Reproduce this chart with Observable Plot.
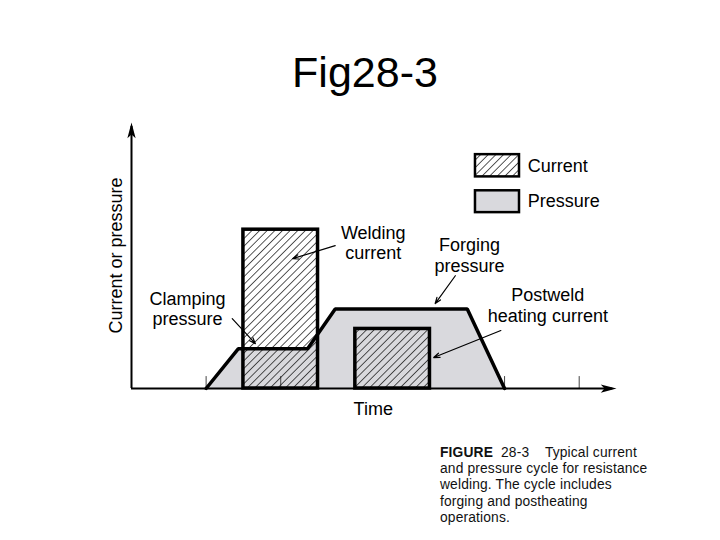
<!DOCTYPE html>
<html>
<head>
<meta charset="utf-8">
<script src="https://cdn.jsdelivr.net/npm/d3@7"></script>
<script src="https://cdn.jsdelivr.net/npm/@observablehq/plot@0.6"></script>
<style>
  html, body { margin: 0; padding: 0; background: #fff; }
  #page { position: relative; width: 720px; height: 540px; overflow: hidden; background: #fff; }
  #title { position: absolute; left: 0; width: 730px; top: 51px; text-align: center;
           font-family: "Liberation Sans", Arial, sans-serif; font-size: 43px; line-height: 43px; color: #000; }
  #chart { position: absolute; left: 0; top: 100px; }
  #caption { position: absolute; left: 440px; top: 445px; font-family: "Liberation Sans", Arial, sans-serif;
             font-size: 13.8px; line-height: 16.2px; color: #111; letter-spacing: 0.15px; }
  #caption b { font-weight: 700; }
</style>
</head>
<body>
<div id="page">
  <div id="title">Fig28-3</div>
  <div id="chart"></div>
  <div id="caption"></div>
</div>
<script>
// ---- data ----
const pressureTime  = [1, 1.43, 2.36, 2.73, 4.5, 5];
const pressureLevel = [0, 1, 1, 2, 2, 0];

const currentStart = [1.5, 3];
const currentEnd   = [2.5, 4];
const currentLevel = [4, 1.5];

const tickTimes = [1, 2, 5, 6];

const labelLines = ["Welding", "current", "Forging", "pressure", "Clamping", "pressure", "Postweld", "heating current"];
const labelX     = [3.24, 3.24, 4.53, 4.53, 0.75, 0.75, 5.58, 5.58];
const labelY     = [3.92, 3.40, 3.62, 3.09, 2.26, 1.74, 2.34, 1.81];

const pointerFromX = [2.73, 4.34, 1.35, 4.95];
const pointerFromY = [3.60, 2.84, 1.76, 1.46];
const pointerToX   = [2.16, 4.07, 1.66, 4.05];
const pointerToY   = [3.27, 2.14, 1.13, 0.78];

const legendLabels = ["Current", "Pressure"];
const legendTop    = [5.89, 4.98];
const legendBottom = [5.33, 4.43];

const xLabel = "Time";
const yLabel = "Current or pressure";
const captionLines = ["<b>FIGURE</b>&nbsp; 28-3 &nbsp;&nbsp; Typical current", "and pressure cycle for resistance",
  "welding. The cycle includes", "forging and postheating", "operations."];

// ---- build tables ----
const pressure = pressureTime.map((t, i) => ({t, p: pressureLevel[i]}));
const currents = currentStart.map((s, i) => ({s, e: currentEnd[i], c: currentLevel[i]}));
const labels = labelLines.map((text, i) => ({text, x: labelX[i], y: labelY[i]}));
const pointers = pointerFromX.map((x1, i) => ({x1, y1: pointerFromY[i], x2: pointerToX[i], y2: pointerToY[i]}));
const legend = legendLabels.map((label, i) => ({label, top: legendTop[i], bottom: legendBottom[i],
  fill: i === 0 ? "#fe01fe" : "#d9d9dd"}));

const HATCH = "#fe01fe";
const GRAY = "#d9d9dd";
const font = "'Liberation Sans', Arial, sans-serif";

const arrowHead = {
  draw(ctx, size) {
    const r = Math.sqrt(size / Math.PI);
    ctx.moveTo(0, 0);
    ctx.lineTo(-2.1 * r, -0.55 * r);
    ctx.lineTo(-1.6 * r, 0);
    ctx.lineTo(-2.1 * r, 0.55 * r);
    ctx.closePath();
  }
};

const chart = Plot.plot({
  width: 720,
  height: 340,
  marginLeft: 131,
  marginRight: 104,
  marginTop: 22,
  marginBottom: 52,
  x: {domain: [0, 6.5], axis: null},
  y: {domain: [0, 6.7], axis: null},
  style: {fontFamily: font, background: "transparent", overflow: "visible"},
  marks: [
    Plot.areaY(pressure, {x: "t", y: "p", fill: GRAY}),
    Plot.ruleX(tickTimes, {y1: 0, y2: 0.3, stroke: "#444", strokeWidth: 1}),
    Plot.rect(currents, {x1: "s", x2: "e", y1: 0, y2: "c", fill: HATCH, stroke: "#000", strokeWidth: 3.5}),
    Plot.line(pressure, {x: "t", y: "p", stroke: "#000", strokeWidth: 3.5, strokeLinejoin: "miter"}),
    Plot.ruleY([0], {x1: 0, x2: 6.45, stroke: "#000", strokeWidth: 2}),
    Plot.ruleX([0], {y1: 0, y2: 6.6, stroke: "#000", strokeWidth: 2}),
    Plot.dot([{x: 6.5, y: 0, a: 0}, {x: 0, y: 6.7, a: -90}], {x: "x", y: "y", rotate: "a", symbol: arrowHead, r: 7.5, fill: "#000", stroke: "none"}),
    Plot.arrow(pointers, {x1: "x1", y1: "y1", x2: "x2", y2: "y2", stroke: "#000", strokeWidth: 1.2, headLength: 8, headAngle: 40}),
    Plot.text(labels, {x: "x", y: "y", text: "text", fontSize: 18, fill: "#000", fontFamily: font}),
    Plot.text([xLabel], {x: 3.24, y: -0.53, text: d => d, fontSize: 18, fill: "#000", fontFamily: font}),
    Plot.text([yLabel], {x: -0.2, y: 3.35, text: d => d, rotate: -90, fontSize: 18, fill: "#000", fontFamily: font}),
    Plot.rect(legend, {x1: 4.61, x2: 5.2, y1: "bottom", y2: "top", fill: "fill", stroke: "#000", strokeWidth: 2.5}),
    Plot.text(legend, {x: 5.31, y: d => (d.top + d.bottom) / 2, text: "label", textAnchor: "start", fontSize: 18, fill: "#000", fontFamily: font})
  ]
});

// hatch pattern
const svg = chart.tagName.toLowerCase() === "svg" ? chart : chart.querySelector("svg");
const ns = "http://www.w3.org/2000/svg";
const defs = document.createElementNS(ns, "defs");
defs.innerHTML = `<pattern id="hatch" patternUnits="userSpaceOnUse" width="5.4" height="5.4" patternTransform="rotate(45)">
  <line x1="0" y1="-1" x2="0" y2="7" stroke="#111" stroke-width="1.4"/></pattern>`;
svg.insertBefore(defs, svg.firstChild);
svg.querySelectorAll(`[fill="${HATCH}"]`).forEach(el => el.setAttribute("fill", "url(#hatch)"));

document.getElementById("chart").appendChild(chart);
document.getElementById("caption").innerHTML = captionLines.join("<br>");
</script>
</body>
</html>
